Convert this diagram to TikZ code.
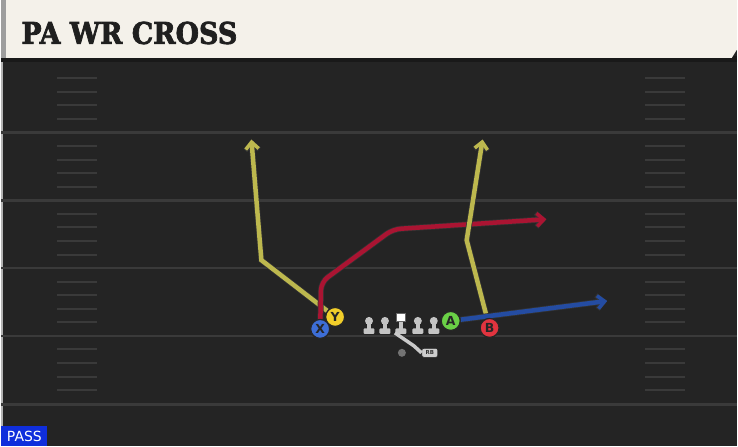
\documentclass[tikz,border=0pt]{standalone}
\usepackage{fontspec}
\setmainfont{DejaVu Sans}
\newfontfamily\titlefont{DejaVu Serif Bold}[FakeBold=2.5]
\newfontfamily\boldsans{DejaVu Sans Bold}
\usetikzlibrary{arrows.meta}

\definecolor{fieldbg}{HTML}{242424}
\definecolor{yardline}{HTML}{3A3A3A}
\definecolor{headbg}{HTML}{F4F1EA}
\definecolor{routeyel}{HTML}{BDB84E}
\definecolor{routered}{HTML}{AA1432}
\definecolor{routeblu}{HTML}{244CA2}
\definecolor{plX}{HTML}{3D6ED6}
\definecolor{plY}{HTML}{F2CE2A}
\definecolor{plA}{HTML}{6AD046}
\definecolor{plB}{HTML}{E1343F}
\definecolor{olgray}{HTML}{C4C4C4}
\definecolor{passblue}{HTML}{0F2EDC}

\tikzset{
  player/.style={circle, draw=black!85, line width=1.2pt, minimum size=19pt, inner sep=0pt,
    font=\boldsans\fontsize{12.5}{12.5}\selectfont, text=black!85},
  route/.style={line width=4.5pt, line join=miter,
    -{Straight Barb[length=7pt, width=13pt, line width=3.5pt]},
    preaction={draw=black!80, line width=6pt, -{Straight Barb[length=7pt, width=14pt, line width=5pt]}}},
  hash/.style={draw=yardline, line width=2pt},
}

\begin{document}
\begin{tikzpicture}[x=1pt, y=-1pt]
    % Field
    \fill[fieldbg] (0,0) rectangle (738,448);
    \fill[black!30] (0,62) rectangle (2,448);
    \foreach \yl in {133,201,269,337,406}
        \draw[yardline, line width=2.5pt] (0,\yl) -- (738,\yl);
    \foreach \b in {65,133,201,269,337}
        \foreach \k in {1,...,4} {
            \draw[hash] (56,\b+13.6*\k) -- (96,\b+13.6*\k);
            \draw[hash] (646,\b+13.6*\k) -- (686,\b+13.6*\k);
        }

    % Header
    \fill[black!90] (0,56) rectangle (738,62);
    \fill[headbg] (3,0) -- (738,0) -- (738,50) -- (733,58) -- (3,58) -- cycle;
    \fill[black!38] (0,0) rectangle (5,58);
    \node[anchor=base west, inner sep=0pt, text=black!88] (title) at (20,44)
        {\scalebox{0.9}[1]{\titlefont\fontsize{30}{30}\selectfont PA WR CROSS}};

    % Players
    \node[player, fill=plX] (X) at (320,330) {X};
    \node[player, fill=plY] (Y) at (335,318) {Y};
    \node[player, fill=plA] (A) at (451,322) {A};
    \node[player, fill=plB] (B) at (490,329) {B};

    % Routes
    \coordinate (ybreak) at (261,261);
    \coordinate (yend) at (251,140);
    \coordinate (xup) at (321,283);
    \coordinate (xbreak) at (393,230);
    \coordinate (xend) at (547,220);
    \coordinate (bbreak) at (467,241);
    \coordinate (bend) at (483,140);
    \coordinate (aend) at (608,302);
    \draw[route, routeyel] (Y) -- (ybreak) -- (yend);
    \draw[route, routered, rounded corners=8pt] (X) -- (xup) -- (xbreak) -- (xend);
    \draw[route, routeyel] (B) -- (bbreak) -- (bend);
    \draw[route, routeblu] (A) -- (aend);

    % Players again, on top of the routes
    \node[player, fill=plY] at (Y) {Y};
    \node[player, fill=plX] at (X) {X};
    \node[player, fill=plA] at (A) {A};
    \node[player, fill=plB] at (B) {B};

    % Line
    \foreach \ox in {369,385,418,434} {
        \fill[olgray] (\ox,322) circle (4pt);
        \fill[olgray] (\ox-2,322) rectangle (\ox+2,331);
        \fill[olgray, rounded corners=1pt] (\ox-5.5,329.5) rectangle (\ox+5.5,335);
    }
    \fill[olgray] (399,322) rectangle (403,331);
    \fill[olgray, rounded corners=1pt] (395.5,329.5) rectangle (406.5,335);
    \node[fill=white, draw=black!60, line width=0.4pt, minimum size=8.5pt, inner sep=0pt] (C) at (401,318) {};

    % Backfield
    \node[circle, fill=black!55, minimum size=8pt, inner sep=0pt] (QB) at (402,354) {};
    \node[rounded corners=2pt, fill=olgray!85, draw=black!85, line width=0.6pt,
        minimum width=16pt, minimum height=9pt, inner sep=0pt,
        font=\boldsans\fontsize{5.5}{5.5}\selectfont, text=black!80] (RB) at (430,354) {RB};
    \draw[olgray!90, line width=3.5pt, line join=round] (395,334) -- (414,347) -- (RB.west);

    % Label
    \node[fill=passblue, text=white, anchor=south west, minimum width=46pt, minimum height=20pt,
        inner sep=0pt, font=\fontsize{14}{14}\selectfont] (pass) at (0,448) {PASS};
\end{tikzpicture}
\end{document}
